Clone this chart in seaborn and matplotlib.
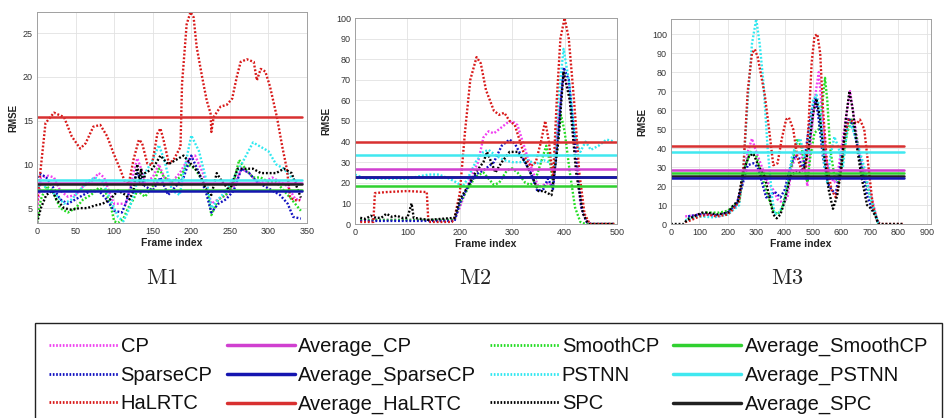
import numpy as np
import pandas as pd
import seaborn as sns
import matplotlib
matplotlib.use("Agg")
import matplotlib.pyplot as plt
from matplotlib.lines import Line2D
from matplotlib.font_manager import FontProperties, fontManager

# ---------------- data ----------------
methods = ["CP", "SmoothCP", "SparseCP", "PSTNN", "HaLRTC", "SPC"]
panel_titles = ["M1", "M2", "M3"]

# ---- M1 ----
m1_cp_f = [0, 5, 15, 22, 30, 40, 50, 60, 70, 80, 87, 95, 100, 110, 115, 120, 125, 130, 135, 140, 150, 158, 165, 175, 185, 195, 205, 215, 222, 226, 235, 245, 255, 265, 275, 285, 295, 305, 315, 325, 335, 342]
m1_cp_v = [4.5, 8.5, 8.7, 8.5, 7.0, 6.3, 6.5, 7.5, 8.0, 9.0, 8.5, 6.5, 5.5, 5.5, 5.5, 7.0, 9.0, 10.7, 9.5, 8.0, 8.5, 10.0, 8.5, 8.0, 9.0, 10.5, 11.0, 9.0, 7.0, 5.5, 6.0, 6.5, 7.5, 9.5, 9.0, 8.0, 8.0, 8.5, 8.0, 7.5, 6.0, 6.0]
m1_smooth_f = [0, 5, 12, 20, 30, 40, 50, 60, 70, 80, 88, 95, 100, 105, 112, 118, 125, 130, 140, 150, 158, 165, 175, 185, 195, 205, 215, 222, 226, 235, 245, 255, 262, 270, 280, 290, 300, 310, 320, 330, 342]
m1_smooth_v = [3.5, 6.0, 7.5, 7.0, 5.0, 4.5, 5.0, 6.0, 6.5, 7.3, 7.0, 5.5, 3.5, 3.3, 3.8, 5.0, 6.0, 7.0, 6.3, 7.5, 9.5, 8.5, 8.0, 8.5, 10.0, 9.5, 8.0, 6.5, 4.2, 6.0, 6.5, 8.0, 10.5, 9.5, 8.5, 8.5, 8.0, 8.0, 7.0, 6.0, 4.7]
m1_sparse_f = [0, 5, 12, 20, 30, 40, 50, 60, 70, 80, 90, 100, 110, 115, 120, 130, 140, 150, 160, 170, 180, 190, 200, 210, 220, 226, 235, 245, 255, 265, 275, 285, 295, 305, 315, 325, 332, 342]
m1_sparse_v = [8.5, 8.9, 8.5, 7.5, 6.0, 5.5, 6.0, 6.5, 7.0, 7.0, 6.0, 4.7, 4.5, 5.5, 7.0, 9.0, 7.5, 7.0, 8.5, 6.5, 7.5, 8.5, 11.0, 9.0, 6.5, 4.5, 5.5, 6.0, 7.0, 9.5, 9.0, 8.0, 7.5, 7.0, 6.5, 5.5, 4.0, 3.8]
m1_pstnn_f = [0, 5, 15, 25, 35, 45, 55, 65, 75, 85, 95, 105, 112, 120, 130, 140, 150, 158, 165, 175, 185, 190, 200, 210, 220, 226, 235, 245, 255, 265, 280, 290, 300, 310, 320, 330, 342]
m1_pstnn_v = [7.0, 8.0, 7.0, 6.5, 5.5, 6.0, 7.0, 8.0, 8.5, 8.0, 6.0, 4.0, 3.5, 5.0, 8.0, 9.0, 10.5, 12.2, 10.5, 7.0, 6.5, 9.0, 13.3, 11.5, 8.0, 5.0, 6.0, 7.0, 8.5, 10.0, 12.5, 12.0, 11.5, 10.0, 9.5, 8.5, 7.5]
m1_halrtc_f = [0, 3, 11, 22, 35, 45, 56, 63, 73, 82, 91, 99, 108, 114, 119, 125, 132, 136, 143, 149, 156, 160, 164, 171, 177, 186, 188, 194, 199, 203, 207, 214, 220, 225, 226, 229, 238, 246, 253, 259, 264, 272, 281, 285, 290, 296, 302, 311, 318, 324, 328, 333, 341]
m1_halrtc_v = [5.5, 8.0, 14.7, 15.9, 15.4, 13.2, 11.8, 12.4, 14.3, 14.5, 13.2, 11.3, 9.4, 8.0, 7.8, 10.5, 12.8, 12.5, 10.1, 9.9, 13.5, 14.1, 12.8, 10.1, 10.5, 12.0, 19.2, 26.0, 27.4, 26.8, 23.4, 20.0, 17.3, 15.8, 13.7, 15.4, 16.6, 16.8, 17.5, 20.0, 21.7, 22.0, 21.7, 19.6, 20.9, 20.6, 18.9, 15.4, 12.0, 9.4, 6.3, 5.9, 5.9]
m1_spc_f = [0, 5, 12, 20, 25, 35, 45, 55, 65, 75, 85, 95, 105, 115, 120, 125, 130, 133, 135, 138, 140, 150, 160, 170, 180, 190, 200, 210, 220, 226, 233, 240, 250, 260, 270, 280, 290, 300, 310, 320, 330, 342]
m1_spc_v = [3.3, 5.0, 6.5, 7.0, 6.0, 5.0, 4.8, 5.0, 5.0, 5.3, 5.5, 6.0, 7.0, 6.5, 6.0, 7.0, 10.0, 8.0, 9.5, 7.5, 9.0, 9.5, 11.0, 10.0, 10.5, 11.0, 10.0, 9.0, 7.0, 6.5, 9.0, 8.0, 7.0, 9.5, 9.5, 9.5, 9.0, 9.0, 9.0, 9.5, 9.0, 6.2]
m1_avg = [7.9, 7.1, 7.0, 8.2, 15.4, 7.75]

# ---- M2 ----
m2_cp_f = [10, 50, 100, 150, 190, 200, 210, 220, 235, 245, 255, 265, 280, 290, 300, 310, 320, 330, 340, 350, 360, 370, 378, 388, 398, 408, 418, 430, 440, 450, 495]
m2_cp_v = [2, 2, 2, 2, 2, 8, 15, 22, 30, 42, 45, 44, 47, 49, 50, 48, 40, 32, 25, 18, 19, 20, 18, 50, 72, 65, 40, 10, 2, 0, 0]
m2_smooth_f = [10, 50, 100, 150, 190, 200, 215, 230, 245, 255, 265, 275, 290, 300, 310, 325, 335, 345, 355, 365, 372, 378, 385, 393, 400, 410, 420, 430, 440, 495]
m2_smooth_v = [2, 2, 2, 2, 2, 10, 17, 23, 25, 22, 19, 20, 26, 27, 25, 20, 19, 22, 30, 38, 30, 20, 35, 53, 45, 25, 8, 1, 0, 0]
m2_sparse_f = [10, 50, 100, 150, 190, 200, 215, 230, 245, 255, 265, 280, 295, 305, 320, 335, 348, 360, 368, 378, 388, 398, 408, 420, 432, 442, 450, 495]
m2_sparse_v = [1.5, 1.5, 1.5, 1.5, 1.5, 10, 18, 24, 26, 28, 30, 38, 41, 39, 32, 25, 16, 17, 22, 17, 45, 76, 70, 40, 8, 1, 0, 0]
m2_pstnn_f = [0, 10, 20, 50, 100, 120, 140, 160, 180, 195, 205, 215, 230, 245, 255, 270, 285, 300, 315, 330, 345, 360, 370, 380, 388, 398, 408, 418, 425, 430, 440, 450, 465, 480, 495]
m2_pstnn_v = [24, 23, 22, 22, 22, 23, 24, 24, 22, 20, 18, 22, 30, 35, 36, 33, 31, 30, 30, 31, 29, 31, 30, 28, 60, 85, 70, 45, 38, 35, 40, 36, 38, 41, 40]
m2_halrtc_f = [10, 35, 38, 60, 100, 137, 140, 185, 190, 200, 210, 220, 232, 240, 250, 265, 275, 285, 295, 305, 315, 325, 335, 345, 355, 363, 370, 378, 385, 392, 400, 408, 418, 428, 438, 448, 495]
m2_halrtc_v = [1, 1, 15, 15.5, 16, 15.5, 1, 1, 3, 15, 45, 70, 81, 78, 65, 55, 53, 54, 50, 48, 40, 32, 28, 30, 40, 50, 40, 22, 60, 90, 100, 90, 60, 25, 5, 0, 0]
m2_spc_f = [10, 20, 30, 40, 50, 60, 70, 80, 90, 100, 108, 112, 140, 190, 200, 215, 230, 245, 252, 260, 268, 280, 295, 310, 325, 340, 350, 360, 375, 388, 398, 410, 422, 435, 445, 495]
m2_spc_v = [3, 2.5, 4, 3, 3, 5, 3.5, 4, 3, 3, 10, 3, 2, 3, 12, 18, 25, 30, 35, 30, 25, 30, 35, 35, 30, 22, 16, 16, 14, 40, 74, 60, 25, 5, 0, 0]
m2_avg = [26.6, 18.6, 22.8, 33.4, 39.7, 23.0]

# ---- M3 ----
m3_cp_f = [50, 100, 130, 170, 200, 230, 250, 270, 285, 300, 320, 340, 360, 375, 395, 410, 425, 440, 455, 470, 480, 495, 510, 520, 530, 545, 560, 575, 590, 605, 620, 630, 645, 660, 675, 690, 710, 725, 735]
m3_cp_v = [4, 5, 5, 4, 7, 10, 20, 38, 45, 38, 30, 22, 18, 13, 11, 14, 30, 36, 38, 30, 20, 50, 70, 80, 62, 35, 25, 22, 30, 45, 60, 70, 55, 40, 30, 22, 12, 2, 0]
m3_smooth_f = [60, 100, 130, 170, 200, 240, 260, 280, 300, 320, 340, 360, 375, 390, 410, 430, 445, 460, 470, 480, 490, 505, 520, 530, 542, 550, 560, 575, 590, 605, 620, 635, 650, 665, 680, 700, 720, 730]
m3_smooth_v = [3, 5, 6, 6, 7, 12, 30, 38, 36, 25, 15, 7, 5, 8, 20, 35, 45, 40, 30, 22, 35, 48, 50, 60, 77, 65, 40, 25, 22, 35, 48, 55, 48, 35, 25, 15, 5, 0]
m3_sparse_f = [60, 100, 130, 170, 200, 230, 250, 270, 290, 305, 320, 335, 350, 365, 385, 400, 420, 435, 450, 465, 480, 495, 508, 520, 535, 550, 565, 580, 595, 610, 625, 640, 655, 670, 690, 705, 720, 730]
m3_sparse_v = [4, 5, 5, 4.5, 6, 10, 20, 31, 32, 30, 22, 14, 15, 17, 14, 18, 30, 36, 35, 28, 45, 60, 67, 55, 35, 22, 18, 16, 30, 45, 56, 52, 42, 30, 15, 9, 5, 0]
m3_pstnn_f = [50, 100, 150, 200, 240, 255, 270, 285, 300, 312, 325, 340, 355, 365, 380, 395, 410, 425, 440, 455, 470, 485, 500, 512, 525, 540, 550, 560, 575, 590, 605, 620, 635, 650, 665, 680, 700, 720, 730]
m3_pstnn_v = [2, 4, 3.5, 5, 10, 30, 65, 95, 108, 95, 75, 40, 15, 5, 6, 10, 20, 35, 42, 45, 35, 40, 65, 68, 60, 30, 22, 35, 46, 40, 30, 50, 52, 45, 38, 30, 15, 5, 0]
m3_halrtc_f = [50, 70, 100, 130, 160, 200, 220, 240, 255, 270, 285, 295, 305, 315, 330, 345, 360, 375, 390, 405, 415, 430, 445, 460, 475, 485, 495, 505, 515, 525, 535, 550, 565, 580, 595, 610, 625, 640, 655, 665, 680, 695, 710, 725, 735, 820]
m3_halrtc_v = [1, 2, 4, 5, 4, 5, 8, 12, 30, 70, 90, 92, 88, 80, 68, 50, 31, 32, 45, 55, 56, 50, 35, 28, 30, 55, 85, 99, 100, 90, 60, 30, 18, 14, 25, 45, 55, 54, 53, 55, 50, 30, 10, 2, 0, 0]
m3_spc_f = [0, 45, 55, 80, 110, 130, 160, 200, 220, 235, 255, 275, 290, 310, 330, 345, 360, 372, 385, 400, 420, 440, 455, 470, 485, 500, 512, 525, 540, 555, 570, 585, 600, 615, 628, 640, 655, 670, 690, 705, 720, 730, 820]
m3_spc_v = [0, 0, 2, 4, 6, 6, 5, 6, 10, 12, 28, 36, 37, 30, 25, 15, 5, 3, 5, 12, 25, 28, 27, 30, 40, 58, 66, 55, 35, 18, 8, 15, 30, 55, 70, 60, 40, 25, 10, 8, 4, 0, 0]
m3_avg = [28.5, 26.7, 24.4, 38.0, 41.3, 25.5]

panel_frames = [
    [m1_cp_f, m1_smooth_f, m1_sparse_f, m1_pstnn_f, m1_halrtc_f, m1_spc_f],
    [m2_cp_f, m2_smooth_f, m2_sparse_f, m2_pstnn_f, m2_halrtc_f, m2_spc_f],
    [m3_cp_f, m3_smooth_f, m3_sparse_f, m3_pstnn_f, m3_halrtc_f, m3_spc_f],
]
panel_values = [
    [m1_cp_v, m1_smooth_v, m1_sparse_v, m1_pstnn_v, m1_halrtc_v, m1_spc_v],
    [m2_cp_v, m2_smooth_v, m2_sparse_v, m2_pstnn_v, m2_halrtc_v, m2_spc_v],
    [m3_cp_v, m3_smooth_v, m3_sparse_v, m3_pstnn_v, m3_halrtc_v, m3_spc_v],
]
panel_avgs = [m1_avg, m2_avg, m3_avg]
avg_span = [(0, 343), (0, 499), (0, 820)]

# ---------------- style ----------------
curve_colors = {"CP": "#f040f0", "SmoothCP": "#22dd22", "SparseCP": "#1010c0",
                "PSTNN": "#30e8f0", "HaLRTC": "#d81818", "SPC": "#000000"}
avg_colors = {"CP": "#d040d0", "SmoothCP": "#30d030", "SparseCP": "#1515b0",
              "PSTNN": "#40e8f0", "HaLRTC": "#d83030", "SPC": "#202020"}
avg_order = ["HaLRTC", "PSTNN", "CP", "SPC", "SmoothCP", "SparseCP"]

sns.set_style("whitegrid")
plt.rcParams["font.family"] = ["Liberation Sans", "DejaVu Sans"]
plt.rcParams["mathtext.fontset"] = "cm"

fig = plt.figure(figsize=(9.51, 4.18), dpi=100)
W, H = 951.0, 418.0
boxes = [(37, 12, 307, 223), (355, 18, 617, 224), (671, 19, 931, 224)]
xlims = [(0, 350), (0, 500), (0, 915)]
ylims = [(3.3, 27.4), (0, 100), (0, 108)]
xticks = [np.arange(0, 351, 50), np.arange(0, 501, 100), np.arange(0, 901, 100)]
yticks = [np.arange(5, 26, 5), np.arange(0, 101, 10), np.arange(0, 101, 10)]
title_x = [162, 475, 787]

for p in range(3):
    l, t, r, b = boxes[p]
    ax = fig.add_axes([l / W, 1 - b / H, (r - l) / W, (b - t) / H])
    ax.set_facecolor("white")
    for i, m in enumerate(methods):
        df = pd.DataFrame({"frame": panel_frames[p][i], "rmse": panel_values[p][i]})
        sns.lineplot(data=df, x="frame", y="rmse", ax=ax, color=curve_colors[m],
                     linestyle=(0, (0.8, 0.8)), linewidth=1.7, estimator=None, sort=True)
    for m in avg_order:
        i = methods.index(m)
        x0, x1 = avg_span[p]
        dfa = pd.DataFrame({"frame": [x0, x1], "rmse": [panel_avgs[p][i]] * 2})
        sns.lineplot(data=dfa, x="frame", y="rmse", ax=ax, color=avg_colors[m],
                     linewidth=1.8, estimator=None)
    ax.set_xlim(*xlims[p])
    ax.set_ylim(*ylims[p])
    ax.set_xticks(xticks[p])
    ax.set_yticks(yticks[p])
    ax.grid(True, color="#e2e2e2", linewidth=0.6)
    ax.tick_params(axis="both", direction="in", length=2, width=0.5, colors="#999999",
                   labelsize=6.5, labelcolor="#333333", pad=3)
    for s in ax.spines.values():
        s.set_visible(True)
        s.set_color("#a0a0a0")
        s.set_linewidth(0.7)
    ax.set_xlabel("Frame index", fontsize=7.5, fontweight="bold", color="#222222", labelpad=1)
    ax.set_ylabel("RMSE", fontsize=7, fontweight="bold", color="#222222", labelpad=3)
    fig.text(title_x[p] / W, 1 - 278 / H, r"$\mathrm{" + panel_titles[p] + "}$",
             ha="center", va="center", fontsize=16, color="#222222")

# ---------------- legend ----------------
legend_order = ["CP", "SparseCP", "HaLRTC", "avg:CP", "avg:SparseCP", "avg:HaLRTC",
                "SmoothCP", "PSTNN", "SPC", "avg:SmoothCP", "avg:PSTNN", "avg:SPC"]
handles, labels = [], []
for key in legend_order:
    if key.startswith("avg:"):
        m = key[4:]
        handles.append(Line2D([], [], color=avg_colors[m], linewidth=2.5))
        labels.append("Average_" + m)
    else:
        handles.append(Line2D([], [], color=curve_colors[key], linewidth=2.0,
                              linestyle=(0, (0.6, 0.6))))
        labels.append(key)

installed = {f.name for f in fontManager.ttflist}
narrow = [n for n in ["Liberation Sans Narrow", "DejaVu Sans Condensed"] if n in installed]
if narrow:
    prop = FontProperties(family=[narrow[0], "Liberation Sans"], size=18, stretch="condensed")
else:
    prop = FontProperties(family=["Liberation Sans", "DejaVu Sans"], size=14.5)
leg = fig.legend(handles, labels, ncol=4, loc="upper left",
                 bbox_to_anchor=(35 / W, 1 - 323 / H), prop=prop,
                 frameon=True, fancybox=False, framealpha=1, edgecolor="#222222",
                 handlelength=3.4, handletextpad=0.15, columnspacing=0.7,
                 labelspacing=0.48, borderpad=0.7, borderaxespad=0)
leg.get_frame().set_linewidth(1.0)
for txt in leg.get_texts():
    txt.set_color("#111111")

fig.savefig("out.png", dpi=100, facecolor="white")
